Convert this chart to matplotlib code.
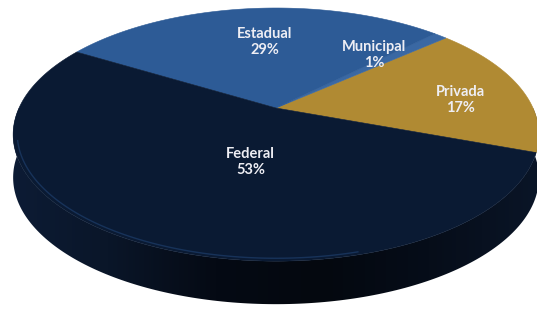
import numpy as np
import matplotlib
matplotlib.use("Agg")
import matplotlib.pyplot as plt
from matplotlib.patches import Polygon
from matplotlib.colors import LinearSegmentedColormap

# ----------- data -----------
categories = ["Privada", "Municipal", "Estadual", "Federal"]
shares = [17, 1, 29, 53]
labels = ["Privada\n17%", "Municipal\n1%", "Estadual\n29%", "Federal\n53%"]
colors = ["#b08a33", "#3a68a3", "#2d5b96", "#0a1a33"]

# ----------- layout (pixels) -----------
W_PX, H_PX = 537, 311
cx, cy = 276, 108      # where the slice edges meet
A, B = 257, 121        # half width / half depth of the top face
p = 0.21               # perspective
depth = 43
start = -20            # degrees, first slice edge
# label anchors in top-view (u, v) coordinates
label_uv = [(0.73, 0.07), (0.42, 0.48), (-0.05, 0.62), (-0.09, -0.41)]


def proj(u, v):
    w = 1 + p * v
    return cx + A * u / w, cy - B * v / w


fig = plt.figure(figsize=(W_PX / 100, H_PX / 100), dpi=100)
ax = fig.add_axes([0, 0, 1, 1])
ax.set_xlim(0, W_PX)
ax.set_ylim(H_PX, 0)
ax.axis("off")

# side wall: one polygon filled with a horizontal gradient
th = np.radians(np.linspace(180, 360, 200))
top = [proj(np.cos(t), np.sin(t)) for t in th]
bot = [(x, y + depth) for x, y in top[::-1]]
side = Polygon(top + bot, closed=True, facecolor="none", edgecolor="none")
ax.add_patch(side)
side_cmap = LinearSegmentedColormap.from_list(
    "side", ["#0d1c36", "#0a1629", "#050a14", "#04080f", "#060d19", "#0a1527"])
grad = np.linspace(0, 1, 256).reshape(1, -1)
img = ax.imshow(grad, cmap=side_cmap, extent=(0, W_PX, H_PX, 0),
                aspect="auto", interpolation="bicubic", zorder=1)
img.set_clip_path(side)

# top face slices
angle = start
for share, col in zip(shares, colors):
    span = share / sum(shares) * 360
    a = np.radians(np.linspace(angle, angle + span, max(int(span * 2), 4)))
    pts = [proj(0, 0)] + [proj(np.cos(t), np.sin(t)) for t in a]
    ax.add_patch(Polygon(pts, closed=True, facecolor=col, edgecolor=col,
                         lw=0.4, zorder=2))
    angle += span

# soft highlight along the front edge
hl = np.radians(np.linspace(195, 285, 80))
hx, hy = zip(*[proj(0.985 * np.cos(t), 0.985 * np.sin(t)) for t in hl])
ax.plot(hx, hy, color="#1d3d6a", lw=1.0, alpha=0.7, zorder=3)

for lab, (u, v) in zip(labels, label_uv):
    x, y = proj(u, v)
    ax.text(x, y, lab, ha="center", va="center", color="#eeeef4",
            fontsize=10.5, fontweight="bold", family=["Lato", "DejaVu Sans"],
            linespacing=1.2, zorder=4)

fig.savefig("out.png", dpi=100)
